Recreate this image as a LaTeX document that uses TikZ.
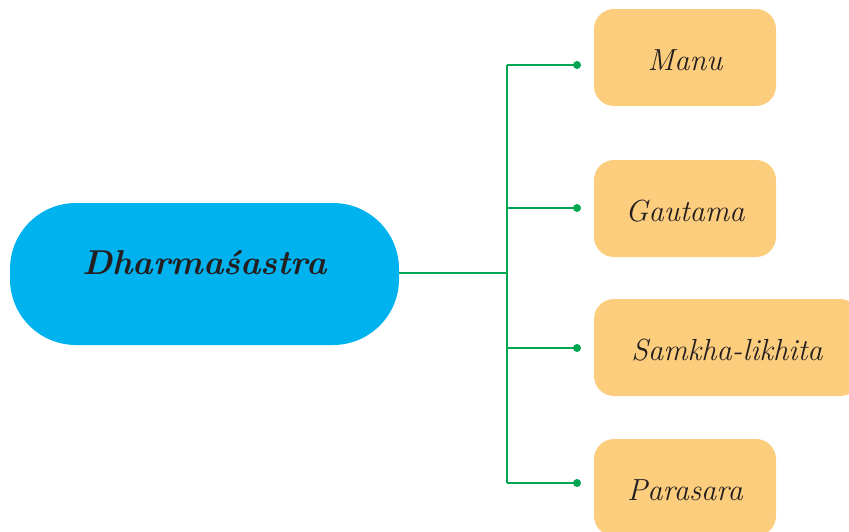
\documentclass[tikz,border=0pt]{standalone}
\usepackage{fontspec}
\definecolor{pillblue}{HTML}{00B2EE}
\definecolor{boxorange}{HTML}{FDCD7E}
\definecolor{lineg}{HTML}{00A651}
\definecolor{txt}{HTML}{231F20}
\begin{document}
\begin{tikzpicture}[x=1pt,y=-1pt,
  pill/.style={fill=pillblue,draw=none,rounded corners=66pt,minimum width=389pt,minimum height=142pt,
    text height=0pt,text depth=0pt,font=\fontsize{34.5}{38}\selectfont\bfseries\itshape,text=txt,inner sep=0pt},
  leaf/.style={fill=boxorange,draw=none,rounded corners=20pt,minimum height=97pt,
    text height=26pt,text depth=0pt,font=\fontsize{30.5}{34}\selectfont\itshape,text=txt,inner sep=0pt},
  conn/.style={draw=lineg,line width=2pt},
  dot/.style={circle,fill=lineg,draw=none,inner sep=0pt,minimum size=8pt}]
\useasboundingbox (0,0) rectangle (849,531);
\node[pill] (main) at (204.5,274) {Dharmaśastra};
\node[leaf,minimum width=182pt] (manu) at (685,57.5) {Manu};
\node[leaf,minimum width=182pt] (gaut) at (685,208.5) {Gautama};
\node[leaf,minimum width=266pt] (samk) at (727,347.5) {Samkha-likhita};
\node[leaf,minimum width=182pt] (para) at (685,487.5) {Parasara};
\coordinate (j) at (507,273);
\coordinate (jt) at (507,65);
\coordinate (jb) at (507,483);
\node[dot] (d1) at (577,65) {};
\node[dot] (d2) at (577,208) {};
\node[dot] (d3) at (577,348) {};
\node[dot] (d4) at (577,483) {};
\draw[conn] (main.east |- j) -- (j);
\draw[conn] (jt) -- (jb);
\draw[conn] (jt) -- (d1.center);
\draw[conn] (d2.center -| j) -- (d2.center);
\draw[conn] (d3.center -| j) -- (d3.center);
\draw[conn] (jb) -- (d4.center);
\end{tikzpicture}
\end{document}
